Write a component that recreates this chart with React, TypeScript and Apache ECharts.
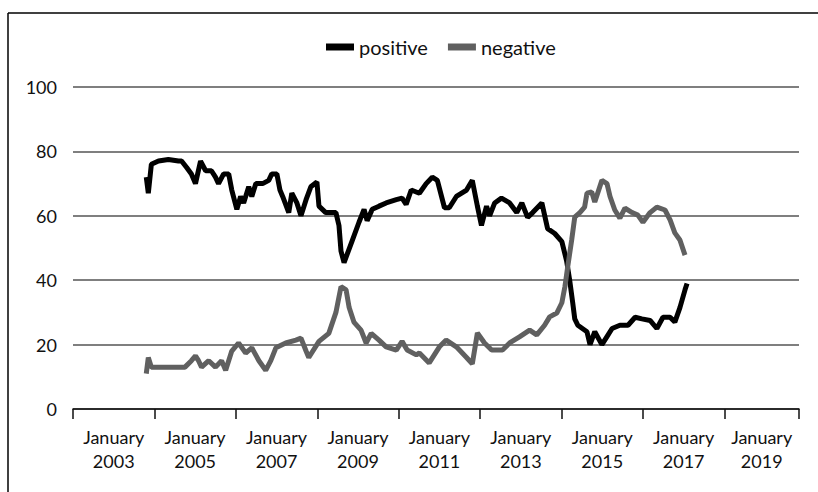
import React, { useEffect, useRef } from "react";
import * as echarts from "echarts";

// x values are months since January 2003
const posMonths = [21.6, 22.2, 23.1, 25.2, 28.1, 31.1, 32, 33.5, 34.9, 36.1, 37.6, 39.1, 40.8, 42, 42.9, 44.4, 45.9, 46.8, 48.3, 49.4, 50.3, 51.8, 52.7, 53.9, 55.9, 57.7, 58.6, 60.1, 61, 61.8, 63.6, 64.5, 66, 67.2, 68.7, 70.1, 71.9, 72.5, 74.5, 77.5, 78.4, 79, 79.9, 80.8, 82.2, 84.3, 85.8, 86.7, 88.2, 90.2, 92.3, 95.3, 97, 98.2, 99.7, 102.1, 104.1, 105.9, 107.4, 109.5, 110.9, 113, 116, 117.7, 119.2, 120.4, 121.9, 122.8, 124.3, 126.3, 128.7, 130.8, 132.3, 134, 135.5, 138.2, 139.9, 142, 144.1, 145.5, 146.4, 147.3, 147.9, 148.8, 151.5, 152.4, 153.8, 155.9, 157.4, 158.9, 161.2, 163.6, 165.7, 167.7, 170.1, 172.1, 173.9, 176, 177.4, 178.9, 180.4, 181];
const posValues = [72, 67, 76, 77, 77.5, 77, 77, 75, 73, 70, 77, 74, 74, 72, 70, 73, 73, 68, 62, 66, 64, 69, 66, 70, 70, 71, 73, 73, 68, 66, 61, 67, 64, 60, 65, 69, 70.5, 63, 61, 61, 57, 49, 45.5, 48, 52, 58, 62, 58.5, 62, 63, 64, 65, 65.5, 63.5, 68, 67, 70, 72, 71, 62.5, 62.5, 66, 68, 71, 63, 57, 63, 60, 64, 65.5, 64, 61, 64, 59.5, 61, 64, 56, 54.5, 52, 46, 40, 33, 28, 26, 24, 20, 24, 20, 22.5, 25, 26, 26, 28.5, 28, 27.5, 25, 28.5, 28.5, 27, 31.5, 37, 39];

const negMonths = [21.6, 22.2, 23.1, 25, 30, 33, 34.9, 36.1, 37, 37.9, 40, 42, 43.8, 45, 46.8, 48.8, 50.9, 52.7, 54.8, 56.8, 58.3, 59.8, 62.7, 65.7, 67.2, 68.7, 69.5, 72.5, 75.4, 77.5, 79, 80.5, 81.4, 82.8, 84.9, 86.4, 87.9, 90.2, 92.3, 95.3, 97, 98.5, 101.2, 102.1, 105, 108, 110, 113, 116, 117.7, 119.2, 121.3, 123.4, 126.6, 128.7, 131.6, 134.6, 136.7, 139, 140.5, 142.6, 144.1, 145, 145.8, 147, 147.9, 149.4, 150.8, 151.5, 152.9, 153.8, 155.9, 157.4, 158.3, 159.7, 161.2, 162.7, 164.8, 166.5, 168, 170.1, 172.1, 174.5, 176, 177.4, 178.9, 180.4];
const negValues = [11, 16, 13, 13, 13, 13, 15, 16.5, 15, 13, 15, 13, 15, 12, 18, 20.5, 17.4, 19, 15, 12, 15, 19, 20.5, 21.4, 22, 18, 16, 21, 23.5, 30, 38, 37, 31.5, 27, 24.5, 20.5, 23.5, 21.4, 19.3, 18.3, 21, 18.3, 16.8, 17.4, 14.3, 19.3, 21.4, 19.3, 16, 14, 23.6, 20.5, 18.3, 18.3, 20.5, 22.4, 24.5, 23, 26, 28.6, 29.8, 33, 38, 44, 52.5, 59.6, 61, 62.7, 67, 67.4, 64.3, 71, 70, 66, 61.8, 59.3, 62.4, 61, 60.2, 58, 61, 62.7, 61.8, 58.7, 54.7, 52.5, 47.8];

const tickMonths = [0, 24, 48, 72, 96, 120, 144, 168, 192, 214];
const labelMonths = [12, 36, 60, 84, 108, 132, 156, 180, 203];
const tickLabels = ["January\n2003", "January\n2005", "January\n2007", "January\n2009", "January\n2011", "January\n2013", "January\n2015", "January\n2017", "January\n2019"];
const seriesNames = ["positive", "negative"];
const yTicks = [0, 20, 40, 60, 80, 100];

export default function App() {
  const ref = useRef<HTMLDivElement>(null);
  useEffect(() => {
    if (!ref.current) return;
    const chart = echarts.init(ref.current, null, { renderer: "svg" });
    const font = "Lato";
    chart.setOption({
      animation: false,
      backgroundColor: "#ffffff",
      textStyle: { fontFamily: font },
      legend: {
        data: seriesNames.map((n) => ({ name: n, icon: "rect" })),
        top: 32,
        left: 321,
        itemWidth: 28,
        itemHeight: 7,
        itemGap: 20,
        textStyle: { fontFamily: font, fontSize: 20, color: "#111" },
      },
      grid: { left: 73, right: 19, top: 87, bottom: 83, containLabel: false },
      xAxis: {
        type: "value",
        min: 0,
        max: 214,
        axisLine: { show: true, lineStyle: { color: "#111", width: 1.5 } },
        axisTick: { show: true, length: 10, lineStyle: { color: "#111", width: 1.5 }, customValues: tickMonths },
        splitLine: { show: false },
        axisLabel: {
          customValues: labelMonths,
          margin: 16,
          fontFamily: font,
          fontSize: 18,
          lineHeight: 24,
          color: "#111",
          formatter: (v: number) => {
            const i = labelMonths.indexOf(v);
            return i >= 0 ? tickLabels[i] : "";
          },
        },
      },
      yAxis: {
        type: "value",
        min: yTicks[0],
        max: yTicks[yTicks.length - 1],
        interval: 20,
        axisLine: { show: false },
        axisTick: { show: false },
        splitLine: { show: true, lineStyle: { color: "#555", width: 1.5 } },
        axisLabel: { margin: 16, fontFamily: font, fontSize: 18, color: "#111" },
      },
      series: [
        {
          name: seriesNames[0],
          type: "line",
          showSymbol: false,
          color: "#000000",
          lineStyle: { width: 5, color: "#000000" },
          data: posMonths.map((m, i) => [m, posValues[i]]),
        },
        {
          name: seriesNames[1],
          type: "line",
          showSymbol: false,
          color: "#606060",
          lineStyle: { width: 5, color: "#606060" },
          data: negMonths.map((m, i) => [m, negValues[i]]),
        },
      ],
      graphic: [
        { type: "line", shape: { x1: 8, y1: 13, x2: 818, y2: 13 }, style: { stroke: "#000", lineWidth: 1.5 } },
        { type: "line", shape: { x1: 8, y1: 13, x2: 8, y2: 492 }, style: { stroke: "#000", lineWidth: 1.5 } },
      ],
    });
    return () => chart.dispose();
  }, []);
  return <div ref={ref} style={{ position: "fixed", left: 0, top: 0, width: 818, height: 492 }} />;
}
